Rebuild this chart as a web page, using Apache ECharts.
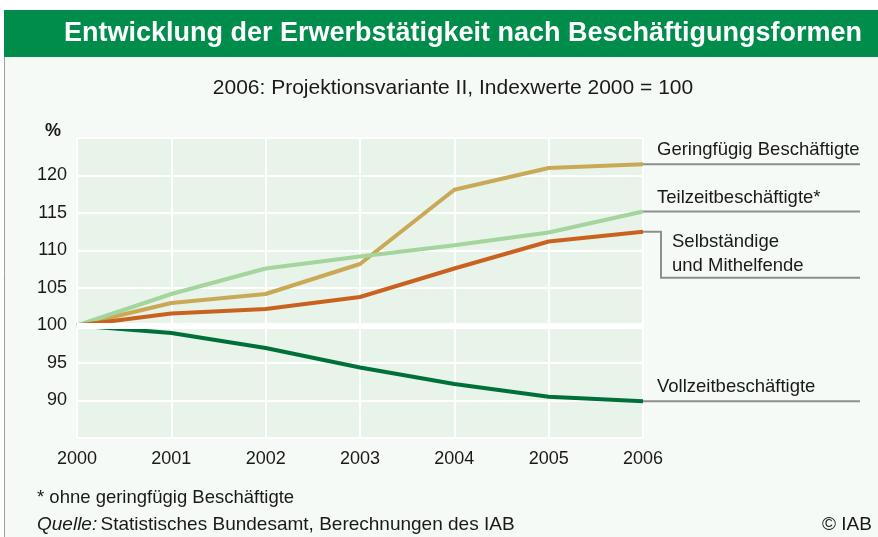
<!DOCTYPE html>
<html>
<head>
<meta charset="utf-8">
<script src="https://cdn.jsdelivr.net/npm/echarts@6/dist/echarts.min.js"></script>
<style>
  html, body { margin: 0; padding: 0; background: #ffffff; }
  #main { width: 878px; height: 537px; }
</style>
</head>
<body>
<div id="main"></div>
<script>
// Jahre und Indexwerte (2000 = 100)
var years = ['2000', '2001', '2002', '2003', '2004', '2005', '2006'];
var geringfuegig = [100, 103.0, 104.2, 108.2, 118.1, 121.0, 121.5];
var teilzeit = [100, 104.2, 107.6, 109.2, 110.7, 112.4, 115.2];
var selbstaendige = [100, 101.6, 102.2, 103.8, 107.6, 111.2, 112.5];
var vollzeit = [100, 99.0, 97.0, 94.4, 92.2, 90.5, 89.9];
var yTicks = [90, 95, 100, 105, 110, 115, 120];

var seriesNames = ['Geringfügig Beschäftigte', 'Teilzeitbeschäftigte*', 'Selbständige\nund Mithelfende', 'Vollzeitbeschäftigte'];
var seriesColors = ['#c9a955', '#a3d59c', '#c9621f', '#00703b'];
var seriesData = [geringfuegig, teilzeit, selbstaendige, vollzeit];

var chartDom = document.getElementById('main');
var myChart = echarts.init(chartDom);
var font = 'Liberation Sans, Arial, sans-serif';

var series = [{
  // nur für die dicke 100er Linie
  type: 'line',
  data: [],
  z: 1,
  silent: true,
  markLine: {
    silent: true,
    symbol: 'none',
    label: { show: false },
    lineStyle: { color: '#ffffff', width: 6, type: 'solid' },
    data: [{ yAxis: 100 }]
  }
}];
seriesData.forEach(function (d, i) {
  series.push({
    name: seriesNames[i],
    type: 'line',
    data: d,
    z: 3,
    symbol: 'none',
    lineStyle: { color: seriesColors[i], width: 4 },
    itemStyle: { color: seriesColors[i] },
    animation: false
  });
});

var option = {
  animation: false,
  backgroundColor: '#ffffff',
  grid: {
    left: 77,
    right: 235,
    top: 138,
    bottom: 99,
    show: true,
    backgroundColor: '#e8f3e9',
    borderWidth: 0
  },
  xAxis: {
    type: 'category',
    data: years,
    boundaryGap: false,
    axisLine: { show: false },
    axisTick: { show: false },
    axisLabel: { color: '#1a1a1a', fontSize: 18, fontFamily: font, margin: 12 },
    splitLine: { show: true, lineStyle: { color: '#ffffff', width: 2 } }
  },
  yAxis: {
    type: 'value',
    min: 85,
    max: 125,
    interval: 5,
    axisLine: { show: false },
    axisTick: { show: false },
    axisLabel: {
      color: '#1a1a1a', fontSize: 18, fontFamily: font, margin: 10,
      formatter: function (v) { return yTicks.indexOf(v) >= 0 ? String(v) : ''; }
    },
    splitLine: { show: true, lineStyle: { color: '#ffffff', width: 2 } }
  },
  series: series
};
myChart.setOption(option);

// Rahmen, Titel, Fußnoten
var graphics = [
  { type: 'rect', z: -10, shape: { x: 4, y: 10, width: 874, height: 527 }, style: { fill: '#f5faf6' } },
  { type: 'line', z: -9, shape: { x1: 4.5, y1: 10, x2: 4.5, y2: 537 }, style: { stroke: '#9aa29c', lineWidth: 1 } },
  { type: 'rect', z: 10, shape: { x: 4, y: 10, width: 874, height: 47 }, style: { fill: '#008d4b' } },
  { type: 'text', z: 11, x: 463, y: 34, style: {
      text: 'Entwicklung der Erwerbstätigkeit nach Beschäftigungsformen',
      fill: '#ffffff', font: 'bold 27px ' + font,
      align: 'center', verticalAlign: 'middle' } },
  { type: 'text', x: 453, y: 88, style: {
      text: '2006: Projektionsvariante II, Indexwerte 2000 = 100',
      fill: '#1a1a1a', font: '21px ' + font, align: 'center', verticalAlign: 'middle' } },
  { type: 'text', x: 53, y: 131, style: {
      text: '%', fill: '#1a1a1a', font: 'bold 18px ' + font, align: 'center', verticalAlign: 'middle' } },
  { type: 'text', x: 37, y: 498, style: {
      text: '* ohne geringfügig Beschäftigte', fill: '#1a1a1a', font: '18.5px ' + font, verticalAlign: 'middle' } },
  { type: 'text', x: 37, y: 525, style: {
      rich: { i: { fontStyle: 'italic', fontSize: 19, fontFamily: font, fill: '#1a1a1a' },
              n: { fontSize: 19, fontFamily: font, fill: '#1a1a1a' } },
      text: '{i|Quelle:} {n|Statistisches Bundesamt, Berechnungen des IAB}', verticalAlign: 'middle' } },
  { type: 'text', x: 822, y: 525, style: {
      text: '© IAB', fill: '#1a1a1a', font: '19px ' + font, verticalAlign: 'middle' } }
];

// Beschriftungen rechts mit Führungslinien
var lineEndX = 860;
var grey = '#8c8f8d';
var labelFont = '18.5px ' + font;
seriesData.forEach(function (d, i) {
  var p = myChart.convertToPixel({ seriesIndex: i + 1 }, [d.length - 1, d[d.length - 1]]);
  if (i === 2) {
    var drop = p[1] + 46;
    graphics.push({ type: 'polyline', shape: { points: [[p[0], p[1]], [661, p[1]], [661, drop], [lineEndX, drop]] },
      style: { stroke: grey, lineWidth: 2, fill: null } });
    graphics.push({ type: 'text', x: 672, y: drop - 24, style: {
      text: seriesNames[i], fill: '#1a1a1a', font: labelFont, lineHeight: 24, verticalAlign: 'middle' } });
  } else {
    graphics.push({ type: 'line', shape: { x1: p[0], y1: p[1], x2: lineEndX, y2: p[1] },
      style: { stroke: grey, lineWidth: 2 } });
    graphics.push({ type: 'text', x: 657, y: p[1] - 14, style: {
      text: seriesNames[i], fill: '#1a1a1a', font: labelFont, verticalAlign: 'middle' } });
  }
});

myChart.setOption({ graphic: graphics });
</script>
</body>
</html>
